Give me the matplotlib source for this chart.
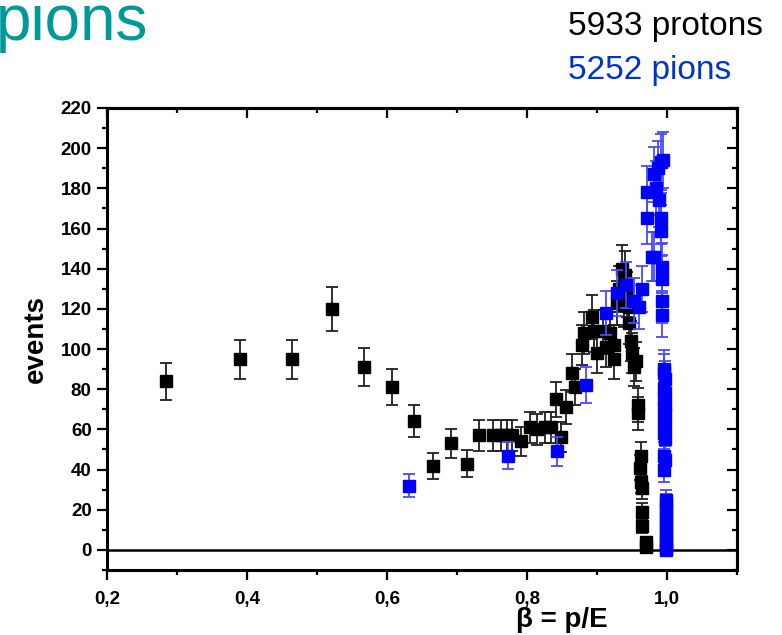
import numpy as np
import matplotlib
matplotlib.use("Agg")
import matplotlib.pyplot as plt
from matplotlib.ticker import MultipleLocator, FuncFormatter

# ---- data: velocity beta = p/E and event counts per bin ----
proton_beta = [0.284, 0.390, 0.465, 0.522, 0.567, 0.607, 0.639, 0.666, 0.692, 0.715,
               0.731, 0.751, 0.763, 0.772, 0.779, 0.792, 0.805, 0.815, 0.826, 0.835,
               0.841, 0.849, 0.856, 0.865, 0.868, 0.878, 0.882, 0.893, 0.896, 0.900,
               0.908, 0.913, 0.918, 0.925, 0.925, 0.929, 0.931, 0.936, 0.940, 0.939,
               0.943, 0.946, 0.946, 0.949, 0.950, 0.956, 0.953, 0.958, 0.958, 0.963,
               0.962, 0.963, 0.964, 0.965, 0.965, 0.970, 0.970]
proton_events = [84, 95, 95, 120, 91, 81, 64, 42, 53, 43,
                 57, 57, 57, 57, 57, 54, 61, 60, 61, 61,
                 75, 56, 71, 88, 81, 102, 108, 116, 109, 98,
                 109, 101, 108, 102, 95, 123, 130, 140, 137, 122,
                 127, 121, 113, 104, 98, 94, 91, 72, 68, 47,
                 41, 34, 31, 19, 12, 4, 1.5]

pion_beta = [0.631, 0.773, 0.843, 0.885, 0.913, 0.929, 0.942, 0.953, 0.960, 0.965,
             0.972, 0.972, 0.979, 0.982, 0.985, 0.989, 0.992, 0.992, 0.992, 0.982,
             0.987, 0.995, 0.993, 0.993, 0.993, 0.993,
             0.996, 0.996, 0.997, 0.996, 0.997, 0.996, 0.997, 0.996, 0.997, 0.996,
             0.997, 0.996, 0.997, 0.996, 0.997, 0.996, 0.998, 0.998, 0.998, 0.998,
             0.998, 0.998, 0.998, 0.998, 0.998, 0.998, 0.998]
pion_events = [32, 47, 49, 82, 118, 128, 132, 124, 121, 130,
               165, 178, 146, 187, 180, 174, 193, 165, 159, 146,
               190, 194, 141, 135, 124, 117,
               90, 88, 85, 80, 78, 75, 72, 70, 67, 64,
               61, 58, 55, 47, 45, 40, 25, 23, 20, 17,
               14, 11, 8, 5, 3, 1, 0]

n_protons = 5933
n_pions = 5252

x_ticks = [0.2, 0.4, 0.6, 0.8, 1.0]
y_ticks = list(range(0, 221, 20))

# ---- styling ----
FONT = "Liberation Sans"
plt.rcParams["font.family"] = [FONT, "DejaVu Sans"]
BLUE = "#0000FF"

fig = plt.figure(figsize=(7.82, 6.35), dpi=100)
ax = fig.add_axes([107 / 782, 1 - 570 / 635, 630 / 782, 462 / 635])

# Poisson (sqrt N) uncertainties on the counts
p_err = np.sqrt(np.asarray(proton_events, dtype=float))
pi_err = np.sqrt(np.asarray(pion_events, dtype=float))

ax.axhline(0, color="black", lw=1.8, zorder=1)

ax.errorbar(proton_beta, proton_events, yerr=p_err, fmt="s", color="black",
            ms=8.5, mec="black", ecolor="#202020", elinewidth=1.3,
            capsize=4.5, capthick=1.3, zorder=3)
ax.errorbar(pion_beta, pion_events, yerr=pi_err, fmt="s", color=BLUE,
            ms=8.5, mec=BLUE, ecolor="#4a4aff", elinewidth=1.3,
            capsize=4.5, capthick=1.3, zorder=4)

ax.set_xlim(0.2, 1.1)
ax.set_ylim(-10, 220)

ax.xaxis.set_major_locator(MultipleLocator(0.2))
ax.xaxis.set_minor_locator(MultipleLocator(0.1))
ax.yaxis.set_major_locator(MultipleLocator(20))
ax.yaxis.set_minor_locator(MultipleLocator(10))
ax.set_xticks(x_ticks)
ax.set_yticks(y_ticks)
ax.xaxis.set_major_formatter(FuncFormatter(lambda v, _: f"{v:.1f}".replace(".", ",")))

for sp in ax.spines.values():
    sp.set_linewidth(2.2)

ax.tick_params(which="major", direction="out", length=7, width=1.6,
               labelsize=13.5, pad=4)
ax.tick_params(which="minor", direction="out", length=3.5, width=1.6)
for lab in ax.get_xticklabels() + ax.get_yticklabels():
    lab.set_fontweight("bold")
ax.tick_params(axis="x", pad=8)

# mirrored inward ticks on the top and right spines
top = ax.secondary_xaxis("top")
top.xaxis.set_major_locator(MultipleLocator(0.2))
top.xaxis.set_minor_locator(MultipleLocator(0.1))
top.tick_params(which="major", direction="in", length=7, width=1.6, labeltop=False)
top.tick_params(which="minor", direction="in", length=3.5, width=1.6)
top.spines["top"].set_linewidth(2.2)
right = ax.secondary_yaxis("right")
right.yaxis.set_major_locator(MultipleLocator(20))
right.yaxis.set_minor_locator(MultipleLocator(10))
right.tick_params(which="major", direction="in", length=7, width=1.6, labelright=False)
right.tick_params(which="minor", direction="in", length=3.5, width=1.6)
right.spines["right"].set_linewidth(2.2)

ax.set_ylabel("events", fontsize=20, fontweight="bold", labelpad=8)
fig.text(562 / 782, 1 - 620 / 635, "\u03b2 = p/E", fontsize=20, fontweight="bold",
         ha="center", va="center")

# header texts
fig.text(-0.005, 1 - 40 / 635, "pions", fontsize=46, color="#009999",
         ha="left", va="baseline")
fig.text(568 / 782, 1 - 27 / 635, f"{n_protons} protons", fontsize=24,
         color="black", ha="left", va="center")
fig.text(568 / 782, 1 - 70 / 635, f"{n_pions} pions", fontsize=24,
         color="#0033CC", ha="left", va="center")

fig.savefig("out.png", dpi=100)
